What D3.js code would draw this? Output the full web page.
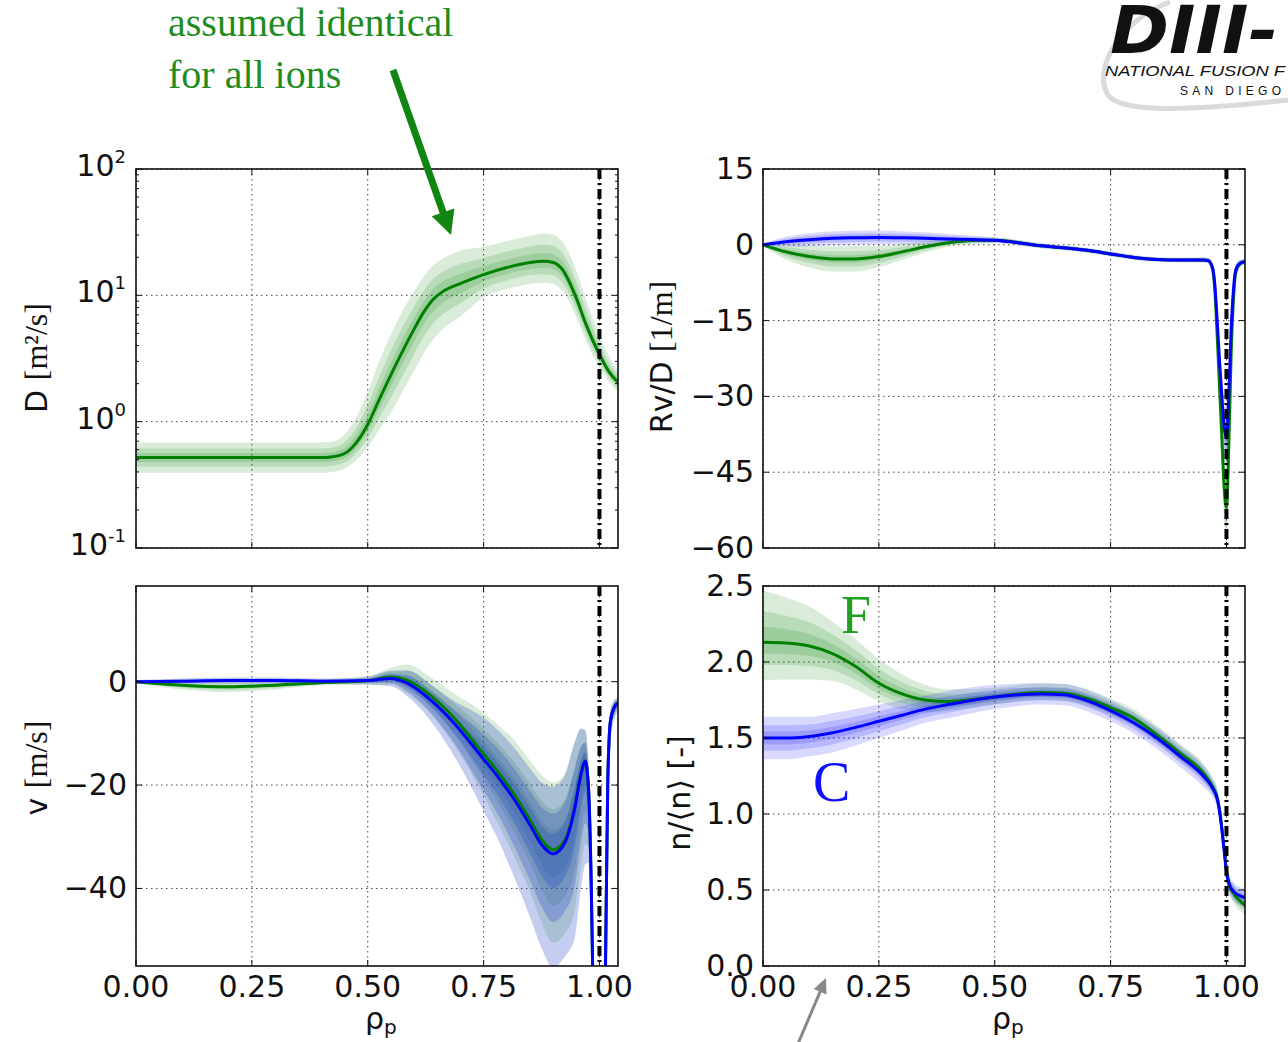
<!DOCTYPE html>
<html>
<head>
<meta charset="utf-8">
<script src="https://cdn.jsdelivr.net/npm/d3@7"></script>
<style>
  html, body { margin: 0; padding: 0; background: #fff; }
  svg { display: block; }
</style>
</head>
<body>
<svg id="chart" width="1288" height="1042"></svg>
<script>
// ---------------- DATA ----------------
// x ticks (rho_p)
const xTicks = [0, 0.25, 0.5, 0.75, 1.0];
const xTickLabels = ["0.00", "0.25", "0.50", "0.75", "1.00"];
const separatrix = 1.0;

// Panel A: D [m^2/s] (log), identical for all ions
const rhoD   = [0, 0.1, 0.2, 0.3, 0.4, 0.42, 0.45, 0.475, 0.5, 0.525, 0.55, 0.575, 0.6, 0.62, 0.64, 0.66, 0.68, 0.7, 0.75, 0.8, 0.85, 0.88, 0.9, 0.92, 0.95, 0.97, 1.0, 1.02, 1.04];
const dMid   = [0.52, 0.52, 0.52, 0.52, 0.52, 0.525, 0.56, 0.68, 0.95, 1.5, 2.35, 3.6, 5.4, 7.3, 9.2, 10.6, 11.6, 12.4, 14.6, 16.6, 18.2, 18.6, 18.2, 16.0, 9.5, 6.0, 3.4, 2.5, 2.05];
const dUp    = [0.12, 0.12, 0.12, 0.12, 0.12, 0.12, 0.15, 0.2, 0.26, 0.3, 0.32, 0.32, 0.3, 0.28, 0.27, 0.26, 0.26, 0.26, 0.22, 0.21, 0.21, 0.22, 0.22, 0.22, 0.22, 0.2, 0.15, 0.12, 0.1];
const dDn    = [0.12, 0.12, 0.12, 0.12, 0.12, 0.12, 0.12, 0.14, 0.18, 0.24, 0.3, 0.32, 0.33, 0.33, 0.32, 0.3, 0.28, 0.26, 0.18, 0.17, 0.17, 0.17, 0.17, 0.17, 0.15, 0.13, 0.1, 0.08, 0.08];

// Panel B: Rv/D [1/m]
const rhoB   = [0, 0.05, 0.1, 0.15, 0.2, 0.25, 0.3, 0.35, 0.4, 0.45, 0.5, 0.6, 0.7, 0.75, 0.8, 0.85, 0.9, 0.95, 0.96, 0.97, 0.975, 0.98, 0.985, 0.99, 0.995, 1.0, 1.005, 1.01, 1.015, 1.02, 1.03, 1.04];
const rvdC   = [0, 0.6, 1.0, 1.3, 1.4, 1.45, 1.4, 1.3, 1.15, 1.05, 0.9, -0.2, -1.1, -1.8, -2.5, -2.9, -3.0, -3.0, -3.1, -4.5, -8, -15, -23, -30, -36, -38, -30, -17, -9, -5, -3.6, -3.3];
const rvdF   = [0, -1.4, -2.3, -2.8, -2.8, -2.3, -1.4, -0.4, 0.4, 0.85, 0.9, -0.2, -1.1, -1.8, -2.5, -2.9, -3.0, -3.0, -3.1, -4.8, -9, -18, -28, -38, -48, -52, -40, -22, -11, -5.5, -3.7, -3.4];
const rvdCSp = [0.3, 1.0, 1.3, 1.4, 1.4, 1.4, 1.3, 1.2, 1.0, 0.8, 0.6, 0.5, 0.45, 0.45, 0.45, 0.45, 0.45, 0.5, 0.5, 1.0, 2, 3, 4, 5, 6, 6, 5, 4, 2, 1, 0.6, 0.5];
const rvdFSp = [0.3, 1.5, 2.2, 2.5, 2.5, 2.1, 1.6, 1.1, 0.8, 0.6, 0.5, 0.45, 0.45, 0.45, 0.45, 0.45, 0.45, 0.5, 0.5, 1.0, 2, 3, 5, 6, 7, 7, 6, 5, 3, 1.5, 0.8, 0.6];

// Panel C: v [m/s]
const rhoV   = [0, 0.1, 0.2, 0.3, 0.4, 0.5, 0.55, 0.585, 0.635, 0.68, 0.75, 0.78, 0.816, 0.852, 0.875, 0.9, 0.925, 0.946, 0.96, 0.969, 0.976, 0.982, 0.988, 1.0, 1.01, 1.013, 1.018, 1.024, 1.035, 1.04];
const vC     = [0, 0.1, 0.2, 0.2, 0.1, 0.2, 0.6, -0.3, -3.5, -7.4, -15, -18.3, -22.8, -28, -31.5, -33.3, -31.2, -24.8, -18, -15.4, -20, -38, -70, -110, -70, -55, -19, -7.4, -4.5, -4.2];
const vF     = [0, -0.7, -1.0, -0.7, -0.2, 0.2, 0.9, 0.3, -2.6, -6.4, -14, -17.3, -21.8, -27, -30.5, -32.5, -30.7, -24.5, -17.8, -15.3, -20, -38, -70, -110, -70, -55, -19, -7.4, -4.5, -4.2];
const vCUp   = [0.3, 0.5, 0.6, 0.6, 0.5, 0.8, 1.5, 2.5, 3, 4, 8, 9, 10, 11, 12, 13, 13, 13, 9, 6, 5, 5, 5, 5, 5, 5, 4, 2, 1.2, 1];
const vCDn   = [0.3, 0.5, 0.6, 0.6, 0.5, 0.8, 1.5, 2.5, 4, 6, 10, 12, 15, 18, 20, 22, 22, 25, 22, 20, 15, 12, 10, 10, 10, 10, 8, 4, 2, 1.5];
const vFUp   = [0.3, 0.6, 0.8, 0.6, 0.5, 0.8, 1.8, 3, 3.5, 4.5, 8, 9, 10.5, 11.5, 12.5, 13, 13, 12.5, 8.5, 6, 5, 5, 5, 5, 5, 5, 4, 2, 1.2, 1];
const vFDn   = [0.3, 0.8, 1.0, 0.8, 0.5, 0.8, 1.5, 2.5, 3.5, 5, 8, 10, 12, 14, 16, 18, 18, 20, 18, 16, 12, 10, 8, 8, 8, 8, 6, 3, 1.5, 1.2];

// Panel D: n/<n> [-]
const rhoN   = [0, 0.05, 0.1, 0.15, 0.2, 0.25, 0.3, 0.35, 0.4, 0.5, 0.6, 0.65, 0.7, 0.75, 0.8, 0.85, 0.9, 0.95, 0.97, 0.98, 0.985, 0.99, 0.995, 1.0, 1.005, 1.015, 1.04];
const nF     = [2.13, 2.125, 2.105, 2.055, 1.97, 1.86, 1.79, 1.75, 1.74, 1.77, 1.80, 1.795, 1.76, 1.70, 1.63, 1.52, 1.40, 1.27, 1.18, 1.11, 1.03, 0.91, 0.77, 0.63, 0.54, 0.48, 0.40];
const nC     = [1.50, 1.50, 1.51, 1.535, 1.57, 1.61, 1.65, 1.69, 1.72, 1.77, 1.79, 1.785, 1.745, 1.68, 1.60, 1.50, 1.38, 1.25, 1.17, 1.10, 1.02, 0.90, 0.76, 0.62, 0.55, 0.49, 0.45];
const nFUp   = [0.34, 0.3, 0.26, 0.21, 0.18, 0.16, 0.13, 0.1, 0.08, 0.06, 0.06, 0.06, 0.06, 0.06, 0.06, 0.06, 0.06, 0.06, 0.06, 0.06, 0.06, 0.06, 0.06, 0.06, 0.06, 0.06, 0.06];
const nFDn   = [0.25, 0.24, 0.22, 0.18, 0.15, 0.12, 0.1, 0.08, 0.06, 0.05, 0.05, 0.05, 0.05, 0.05, 0.05, 0.05, 0.05, 0.05, 0.05, 0.05, 0.05, 0.05, 0.05, 0.05, 0.05, 0.06, 0.06];
const nCSp   = [0.14, 0.14, 0.13, 0.13, 0.12, 0.11, 0.1, 0.09, 0.09, 0.08, 0.07, 0.07, 0.07, 0.07, 0.07, 0.07, 0.07, 0.07, 0.06, 0.06, 0.06, 0.06, 0.06, 0.06, 0.06, 0.06, 0.06];

// tick labels
const dTicks = [0.1, 1, 10, 100];
const dTickExp = ["-1", "0", "1", "2"];
const rvdTicks = [15, 0, -15, -30, -45, -60];
const vTicks = [0, -20, -40];
const nTicks = [0, 0.5, 1.0, 1.5, 2.0, 2.5];
const nTickLabels = ["0.0", "0.5", "1.0", "1.5", "2.0", "2.5"];

// ---------------- STYLE ----------------
const GREEN = "#008000", BLUE = "#0000ff";
const BAND_FRACS = [1, 0.6, 0.3];
const svg = d3.select("#chart");
const FONT = "'DejaVu Sans', sans-serif";
const SERIF = "'Liberation Serif', 'DejaVu Serif', serif";
const fmtMinus = v => (v < 0 ? "\u2212" + Math.abs(v) : String(v));

const panels = {
  A: {x0: 136, x1: 618, y0: 169, y1: 548},
  B: {x0: 763, x1: 1245, y0: 169, y1: 548},
  C: {x0: 136, x1: 618, y0: 586, y1: 966},
  D: {x0: 763, x1: 1245, y0: 586, y1: 966}
};

function makePanel(id, p, yScale, yTickVals) {
  const x = d3.scaleLinear().domain([0, 1.04]).range([p.x0, p.x1]);
  const g = svg.append("g");
  const clipId = "clip" + id;
  svg.append("clipPath").attr("id", clipId).append("rect")
    .attr("x", p.x0).attr("y", p.y0).attr("width", p.x1 - p.x0).attr("height", p.y1 - p.y0);
  const grid = g.append("g").attr("stroke", "#444").attr("stroke-width", 1).attr("stroke-dasharray", "1.5,3.5");
  xTicks.forEach(t => grid.append("line").attr("x1", x(t)).attr("x2", x(t)).attr("y1", p.y0).attr("y2", p.y1));
  yTickVals.forEach(t => grid.append("line").attr("x1", p.x0).attr("x2", p.x1).attr("y1", yScale(t)).attr("y2", yScale(t)));
  const plot = g.append("g").attr("clip-path", `url(#${clipId})`);
  return {x, g, plot};
}

function drawBands(plot, x, y, rho, mid, up, dn, color, alpha, logMode) {
  BAND_FRACS.forEach(k => {
    const area = d3.area()
      .x((d, i) => x(rho[i]))
      .y0((d, i) => logMode ? y(mid[i] * Math.pow(10, -dn[i] * k)) : y(mid[i] - dn[i] * k))
      .y1((d, i) => logMode ? y(mid[i] * Math.pow(10, up[i] * k)) : y(mid[i] + up[i] * k))
      .curve(d3.curveMonotoneX);
    plot.append("path").attr("d", area(rho)).attr("fill", color).attr("fill-opacity", alpha);
  });
}
function drawLine(plot, x, y, rho, mid, color) {
  const line = d3.line().x((d, i) => x(rho[i])).y((d, i) => y(mid[i])).curve(d3.curveMonotoneX);
  plot.append("path").attr("d", line(rho)).attr("fill", "none").attr("stroke", color).attr("stroke-width", 3);
}
function finishPanel(pp, p, y, yTickVals, minorVals) {
  const {x, g, plot} = pp;
  plot.append("line").attr("x1", x(separatrix)).attr("x2", x(separatrix)).attr("y1", p.y0).attr("y2", p.y1)
    .attr("stroke", "#000").attr("stroke-width", 4).attr("stroke-dasharray", "10,4,2,4");
  g.append("rect").attr("x", p.x0).attr("y", p.y0).attr("width", p.x1 - p.x0).attr("height", p.y1 - p.y0)
    .attr("fill", "none").attr("stroke", "#111").attr("stroke-width", 1.6);
  const tk = g.append("g").attr("stroke", "#111").attr("stroke-width", 1);
  xTicks.forEach(t => {
    tk.append("line").attr("x1", x(t)).attr("x2", x(t)).attr("y1", p.y1).attr("y2", p.y1 - 6);
    tk.append("line").attr("x1", x(t)).attr("x2", x(t)).attr("y1", p.y0).attr("y2", p.y0 + 6);
  });
  yTickVals.forEach(t => {
    tk.append("line").attr("x1", p.x0).attr("x2", p.x0 + 6).attr("y1", y(t)).attr("y2", y(t));
    tk.append("line").attr("x1", p.x1).attr("x2", p.x1 - 6).attr("y1", y(t)).attr("y2", y(t));
  });
  (minorVals || []).forEach(t => {
    tk.append("line").attr("x1", p.x0).attr("x2", p.x0 + 3).attr("y1", y(t)).attr("y2", y(t));
    tk.append("line").attr("x1", p.x1).attr("x2", p.x1 - 3).attr("y1", y(t)).attr("y2", y(t));
  });
}
function yLabels(p, y, vals, labels) {
  vals.forEach((t, i) => {
    svg.append("text").attr("x", p.x0 - 9).attr("y", y(t) + 10).attr("text-anchor", "end")
      .attr("font-family", FONT).attr("font-size", 30).attr("fill", "#111").text(labels[i]);
  });
}
function xLabels(p, x) {
  xTicks.forEach((t, i) => {
    svg.append("text").attr("x", x(t)).attr("y", 997).attr("text-anchor", "middle")
      .attr("font-family", FONT).attr("font-size", 30).attr("fill", "#111").text(xTickLabels[i]);
  });
  const t = svg.append("text").attr("x", (p.x0 + p.x1) / 2 - 12).attr("y", 1029)
    .attr("font-family", FONT).attr("font-size", 30).attr("fill", "#111");
  t.append("tspan").text("\u03c1");
  t.append("tspan").attr("font-size", 20).attr("dy", 5).text("p");
}
function axisTitle(cx, cy, parts) {
  const t = svg.append("text").attr("transform", `translate(${cx},${cy}) rotate(-90)`)
    .attr("text-anchor", "middle").attr("fill", "#111");
  parts.forEach(([s, fam, fs]) => t.append("tspan").attr("font-family", fam).attr("font-size", fs).text(s));
}

// ---------- logo (behind) ----------
const logo = svg.append("g");
logo.append("path").attr("d", "M1170,2 C1120,20 1092,70 1108,95 C1120,112 1180,112 1288,100")
  .attr("fill", "none").attr("stroke", "#dadada").attr("stroke-width", 5);
logo.append("text").attr("x", 1110).attr("y", 53).attr("font-family", FONT).attr("font-weight", "bold")
  .attr("font-style", "italic").attr("font-size", 66).attr("fill", "#111")
  .attr("textLength", 168).attr("lengthAdjust", "spacingAndGlyphs").text("DIII-");
logo.append("text").attr("x", 1105).attr("y", 76).attr("font-family", "'Liberation Sans', sans-serif")
  .attr("font-style", "italic").attr("font-size", 15).attr("fill", "#111")
  .attr("textLength", 180).attr("lengthAdjust", "spacingAndGlyphs").text("NATIONAL FUSION F");
logo.append("text").attr("x", 1180).attr("y", 95).attr("font-family", "'Liberation Sans', sans-serif")
  .attr("font-size", 12).attr("letter-spacing", 4.3).attr("fill", "#111").text("SAN DIEGO");

// ---------- Panel A ----------
{
  const p = panels.A;
  const y = d3.scaleLog().domain([0.1, 100]).range([p.y1, p.y0]);
  const pp = makePanel("A", p, y, dTicks);
  drawBands(pp.plot, pp.x, y, rhoD, dMid, dUp, dDn, GREEN, 0.15, true);
  drawLine(pp.plot, pp.x, y, rhoD, dMid, GREEN);
  const minors = [];
  [0.1, 1, 10].forEach(b => { for (let m = 2; m <= 9; m++) minors.push(b * m); });
  finishPanel(pp, p, y, dTicks, minors);
  dTicks.forEach((t, i) => {
    const txt = svg.append("text").attr("x", p.x0 - 10).attr("y", y(t) + 7).attr("text-anchor", "end")
      .attr("font-family", FONT).attr("font-size", 30).attr("fill", "#111");
    txt.append("tspan").text("10");
    txt.append("tspan").attr("font-size", 18).attr("dy", -13).text(dTickExp[i]);
  });
  axisTitle(47, 358, [["D ", FONT, 30], ["[m\u00b2/s]", SERIF, 32]]);
}

// ---------- Panel B ----------
{
  const p = panels.B;
  const y = d3.scaleLinear().domain([-60, 15]).range([p.y1, p.y0]);
  const pp = makePanel("B", p, y, rvdTicks);
  drawBands(pp.plot, pp.x, y, rhoB, rvdF, rvdFSp, rvdFSp, GREEN, 0.15, false);
  drawBands(pp.plot, pp.x, y, rhoB, rvdC, rvdCSp, rvdCSp, BLUE, 0.15, false);
  drawLine(pp.plot, pp.x, y, rhoB, rvdF, GREEN);
  drawLine(pp.plot, pp.x, y, rhoB, rvdC, BLUE);
  finishPanel(pp, p, y, rvdTicks);
  yLabels(p, y, rvdTicks, rvdTicks.map(fmtMinus));
  axisTitle(672, 357, [["Rv/D ", FONT, 30], ["[1/m]", SERIF, 32]]);
}

// ---------- Panel C ----------
{
  const p = panels.C;
  const y = d3.scaleLinear().domain([-55, 18.5]).range([p.y1, p.y0]);
  const pp = makePanel("C", p, y, vTicks);
  drawBands(pp.plot, pp.x, y, rhoV, vF, vFUp, vFDn, GREEN, 0.15, false);
  drawBands(pp.plot, pp.x, y, rhoV, vC, vCUp, vCDn, "#1f3fc4", 0.26, false);
  drawLine(pp.plot, pp.x, y, rhoV, vF, GREEN);
  drawLine(pp.plot, pp.x, y, rhoV, vC, BLUE);
  finishPanel(pp, p, y, vTicks);
  yLabels(p, y, vTicks, vTicks.map(fmtMinus));
  xLabels(p, pp.x);
  axisTitle(47, 768, [["v ", FONT, 30], ["[m/s]", SERIF, 32]]);
}

// ---------- Panel D ----------
{
  const p = panels.D;
  const y = d3.scaleLinear().domain([0, 2.5]).range([p.y1, p.y0]);
  const pp = makePanel("D", p, y, nTicks);
  drawBands(pp.plot, pp.x, y, rhoN, nF, nFUp, nFDn, GREEN, 0.15, false);
  drawBands(pp.plot, pp.x, y, rhoN, nC, nCSp, nCSp, BLUE, 0.15, false);
  drawLine(pp.plot, pp.x, y, rhoN, nF, GREEN);
  drawLine(pp.plot, pp.x, y, rhoN, nC, BLUE);
  finishPanel(pp, p, y, nTicks);
  yLabels(p, y, nTicks, nTickLabels);
  xLabels(p, pp.x);
  axisTitle(690, 793, [["n/\u27e8n\u27e9 [-]", FONT, 30]]);
  svg.append("text").attr("x", 841).attr("y", 633).attr("font-family", SERIF).attr("font-size", 54)
    .attr("fill", "#22a022").text("F");
  svg.append("text").attr("x", 813).attr("y", 801).attr("font-family", SERIF).attr("font-size", 56)
    .attr("fill", "#1010ff").text("C");
}

// ---------- annotations ----------
function arrow(x0, y0, tx, ty, shaftW, headL, headW, color) {
  const dx = tx - x0, dy = ty - y0, L = Math.hypot(dx, dy);
  const ux = dx / L, uy = dy / L, nx = -uy, ny = ux;
  const bx = tx - ux * headL, by = ty - uy * headL;
  svg.append("line").attr("x1", x0).attr("y1", y0).attr("x2", bx + ux * 2).attr("y2", by + uy * 2)
    .attr("stroke", color).attr("stroke-width", shaftW);
  svg.append("path").attr("fill", color)
    .attr("d", `M${tx},${ty}L${bx + nx * headW},${by + ny * headW}L${bx - nx * headW},${by - ny * headW}Z`);
}
svg.append("text").attr("x", 168).attr("y", 36).attr("font-family", SERIF).attr("font-size", 40)
  .attr("fill", "#1e8c1e").text("assumed identical");
svg.append("text").attr("x", 168).attr("y", 88).attr("font-family", SERIF).attr("font-size", 40)
  .attr("fill", "#1e8c1e").text("for all ions");
arrow(393, 70, 451, 235, 7, 24, 12, "#118511");
arrow(797, 1046, 826, 978, 3, 15, 7, "#888");
</script>
</body>
</html>
